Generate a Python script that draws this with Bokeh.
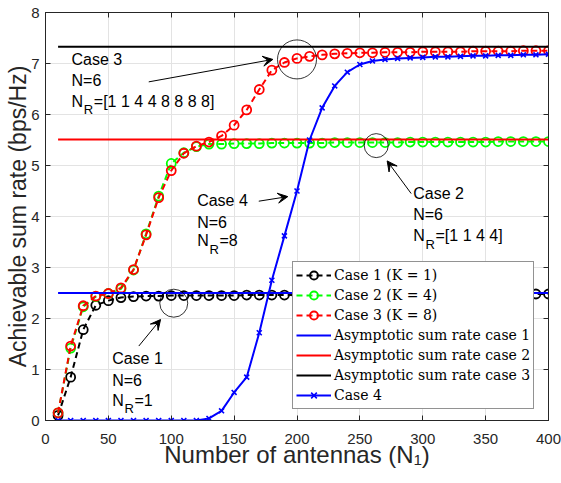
from bokeh.plotting import figure
from bokeh.models import (Range1d, LinearAxis, FixedTicker, Legend, LegendItem,
                          Label, Arrow, VeeHead, ColumnDataSource)
from bokeh.embed import file_html
from bokeh.resources import INLINE

# ---------------- data ----------------
n1 = [10, 20, 30, 40, 50, 60, 70, 80, 90, 100, 110, 120, 130, 140, 150, 160, 170, 180, 190, 200,
      210, 220, 230, 240, 250, 260, 270, 280, 290, 300, 310, 320, 330, 340, 350, 360, 370, 380, 390, 400]
case1 = [0.10, 0.85, 1.78, 2.26, 2.35, 2.41, 2.43, 2.44, 2.44, 2.45, 2.45, 2.45, 2.45, 2.45, 2.45, 2.46,
         2.46, 2.46, 2.46, 2.46, 2.46, 2.46, 2.46, 2.46, 2.47, 2.47, 2.47, 2.47, 2.47, 2.47, 2.47, 2.47,
         2.47, 2.48, 2.48, 2.48, 2.48, 2.48, 2.48, 2.48]
case2 = [0.15, 1.42, 2.23, 2.43, 2.49, 2.58, 2.95, 3.66, 4.40, 5.04, 5.25, 5.37, 5.42, 5.42, 5.43, 5.43,
         5.43, 5.44, 5.44, 5.44, 5.44, 5.44, 5.45, 5.45, 5.45, 5.45, 5.45, 5.45, 5.46, 5.46, 5.46, 5.46,
         5.46, 5.46, 5.46, 5.47, 5.47, 5.47, 5.47, 5.47]
case3 = [0.15, 1.46, 2.25, 2.44, 2.49, 2.60, 2.96, 3.64, 4.37, 4.90, 5.24, 5.38, 5.46, 5.58, 5.79, 6.09,
         6.49, 6.87, 7.02, 7.10, 7.14, 7.17, 7.19, 7.20, 7.21, 7.21, 7.22, 7.22, 7.22, 7.23, 7.23, 7.23,
         7.23, 7.24, 7.24, 7.24, 7.24, 7.25, 7.25, 7.25]
case4 = [0, 0, 0, 0, 0, 0, 0, 0, 0, 0, 0, 0, 0.04, 0.19, 0.55, 0.85, 1.72, 2.75, 3.62, 4.50,
         5.50, 6.13, 6.56, 6.83, 6.98, 7.05, 7.08, 7.10, 7.11, 7.12, 7.13, 7.13, 7.14, 7.15, 7.15, 7.16,
         7.16, 7.17, 7.17, 7.18]
asym1 = 2.50
asym2 = 5.51
asym3 = 7.33

x_ticks = [0, 50, 100, 150, 200, 250, 300, 350, 400]
y_ticks = [0, 1, 2, 3, 4, 5, 6, 7, 8]

legend_labels = ["Case 1 (K = 1)", "Case 2 (K = 4)", "Case 3 (K = 8)",
                 "Asymptotic sum rate case 1", "Asymptotic sum rate case 2",
                 "Asymptotic sum rate case 3", "Case 4"]

x_label = "Number of antennas (N\u2081)"
y_label = "Achievable sum rate (bps/Hz)"

# ---------------- figure ----------------
AX = "#262626"
p = figure(width=561, height=483, x_range=Range1d(0, 400), y_range=Range1d(0, 8),
           output_backend="svg", toolbar_location=None,
           min_border_left=45, min_border_right=13, min_border_top=12, min_border_bottom=63,
           background_fill_color="white", border_fill_color="white")
p.outline_line_color = AX
p.outline_line_width = 1

for ax, ticks in ((p.xaxis[0], x_ticks), (p.yaxis[0], y_ticks)):
    ax.ticker = FixedTicker(ticks=ticks)
    ax.major_tick_in = 5
    ax.major_tick_out = 0
    ax.minor_tick_in = 0
    ax.minor_tick_out = 0
    ax.axis_line_color = AX
    ax.major_tick_line_color = AX
    ax.major_label_text_font = "Liberation Sans"
    ax.major_label_text_font_size = "15px"
    ax.major_label_text_color = AX
    ax.axis_label_text_font = "Liberation Sans"
    ax.axis_label_text_font_style = "normal"
    ax.axis_label_text_color = AX

p.xaxis[0].axis_label = x_label
p.yaxis[0].axis_label = y_label
p.xaxis[0].axis_label_text_font_size = "24px"
p.yaxis[0].axis_label_text_font_size = "23px"
p.xaxis[0].major_label_standoff = 13
p.xaxis[0].axis_label_standoff = -6
p.yaxis[0].major_label_standoff = 6
p.yaxis[0].axis_label_standoff = -3

for loc, ticks in (("above", x_ticks), ("right", y_ticks)):
    ax = LinearAxis(ticker=FixedTicker(ticks=ticks), major_tick_in=5, major_tick_out=0,
                    minor_tick_in=0, minor_tick_out=0, axis_line_color=AX,
                    major_tick_line_color=AX, major_label_standoff=0,
                    major_label_overrides={t: "" for t in ticks},
                    major_label_text_font_size="1px")
    p.add_layout(ax, loc)

p.xgrid.grid_line_color = "#e3e3e3"
p.ygrid.grid_line_color = "#e3e3e3"
p.xgrid.ticker = FixedTicker(ticks=x_ticks)
p.ygrid.ticker = FixedTicker(ticks=y_ticks)

src = ColumnDataSource(dict(n1=n1, c1=case1, c2=case2, c3=case3, c4=case4))

renderers = []
for col, color in (("c1", "black"), ("c2", "#00ff00"), ("c3", "#ff0000")):
    ln = p.line("n1", col, source=src, line_color=color, line_width=2, line_dash="6 4")
    sc = p.scatter("n1", col, source=src, marker="circle", size=9, fill_color=None,
                   line_color=color, line_width=1.8)
    renderers.append([ln, sc])

xs_asym = [n1[0], n1[-1]]
for val, color in ((asym1, "#0000ff"), (asym2, "#ff0000"), (asym3, "black")):
    ln = p.line(xs_asym, [val, val], line_color=color, line_width=2)
    renderers.append([ln])

l4 = p.line("n1", "c4", source=src, line_color="#0000ff", line_width=2)
s4 = p.scatter("n1", "c4", source=src, marker="x", size=7, line_color="#0000ff", line_width=1.6)
renderers.append([l4, s4])

# annotation circles
p.scatter(x=[200, 263, 102], y=[7.08, 5.39, 2.30], size=[39, 24, 28], marker="circle",
          fill_color=None, line_color="black", line_width=0.8)

# arrows
arrows = [((82.1, 6.64), (180.8, 7.08)),
          ((290.8, 4.45), (271.7, 5.09)),
          ((169.6, 4.30), (192.7, 4.39)),
          ((74.2, 1.46), (91.5, 1.98))]
for (xs, ys), (xe, ye) in arrows:
    p.add_layout(Arrow(x_start=xs, y_start=ys, x_end=xe, y_end=ye, line_color="black", line_width=1,
                       end=VeeHead(size=10, fill_color="black", line_color="black", line_width=1)))

# annotation texts
notes = [(20.7, [7.07, 6.66, 6.26], "Case 3", "=[1 1 4 4 8 8 8 8]"),
         (292.4, [4.45, 4.03, 3.62], "Case 2", "=[1 1 4 4]"),
         (120.6, [4.32, 3.89, 3.52], "Case 4", "=8"),
         (53.0, [1.21, 0.79, 0.40], "Case 1", "=1")]

def lab(x, y, text, size="16px", xo=0, yo=0):
    p.add_layout(Label(x=x, y=y, text=text, x_offset=xo, y_offset=yo, text_font="Liberation Sans",
                       text_font_size=size, text_baseline="middle", text_align="left",
                       text_color="black"))

for x, ys, title, nr in notes:
    lab(x, ys[0], title)
    lab(x, ys[1], "N=6")
    lab(x, ys[2], "N")
    lab(x, ys[2], "R", size="13px", xo=12.3, yo=-8.5)
    lab(x, ys[2], nr, xo=22.3)

legend = Legend(items=[LegendItem(label=t, renderers=r) for t, r in zip(legend_labels, renderers)],
                location=(247, 11.5), padding=3, spacing=0, margin=0,
                glyph_width=35, glyph_height=20, label_height=20, label_standoff=3,
                label_text_font="DejaVu Serif", label_text_font_size="14px",
                label_text_color="black", border_line_color=AX, border_line_width=1,
                background_fill_color="white", background_fill_alpha=1)
p.add_layout(legend)

open("out.html", "w").write(file_html(p, INLINE))
